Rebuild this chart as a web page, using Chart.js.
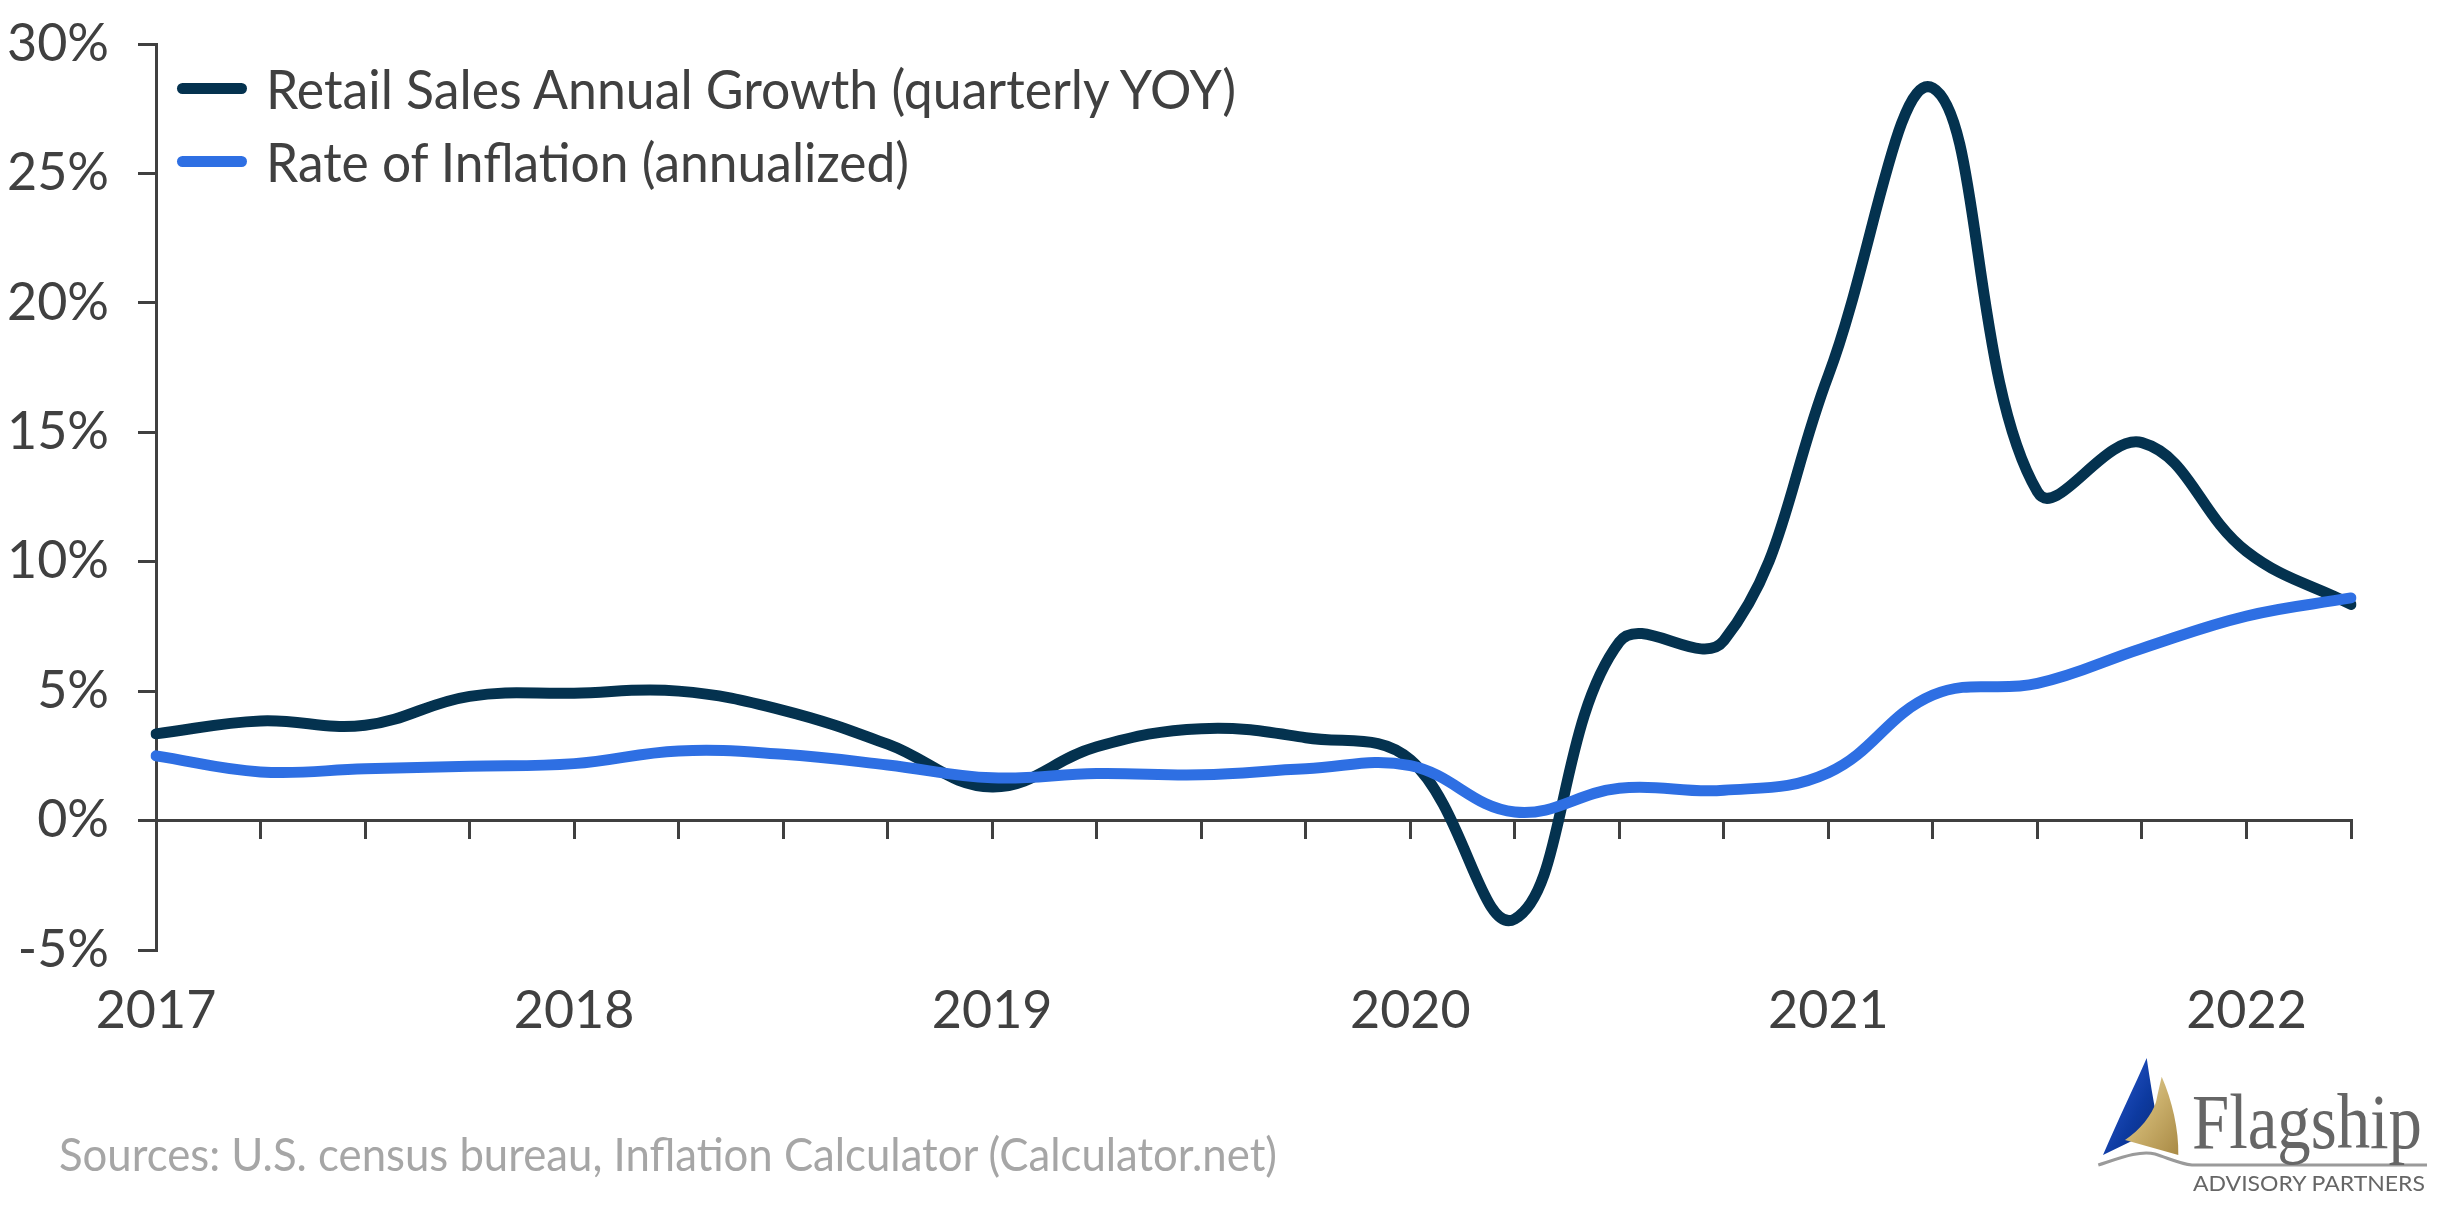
<!DOCTYPE html>
<html>
<head>
<meta charset="utf-8">
<script src="https://cdn.jsdelivr.net/npm/chart.js@4"></script>
<style>
  html, body { margin: 0; padding: 0; background: #ffffff; }
  #wrap { position: relative; width: 2442px; height: 1208px; overflow: hidden; }
  #chart { position: absolute; left: 0; top: 0; }
  #overlay { position: absolute; left: 0; top: 0; pointer-events: none; }
</style>
</head>
<body>
<div id="wrap">
  <canvas id="chart" width="2442" height="1208"></canvas>
  <svg id="overlay" width="2442" height="1208" viewBox="0 0 2442 1208" xmlns="http://www.w3.org/2000/svg">
    <defs>
      <linearGradient id="blueSail" x1="0" y1="0" x2="1" y2="1">
        <stop offset="0" stop-color="#2f5fd8"/>
        <stop offset="0.6" stop-color="#0d3aa0"/>
        <stop offset="1" stop-color="#0a2a78"/>
      </linearGradient>
      <linearGradient id="goldSail" x1="0" y1="0" x2="1" y2="1">
        <stop offset="0" stop-color="#e6d8a6"/>
        <stop offset="0.5" stop-color="#c9ae6a"/>
        <stop offset="1" stop-color="#a98a45"/>
      </linearGradient>
    </defs>
    <!-- legend -->
    <line x1="182.5" y1="88.5" x2="241.5" y2="88.5" stroke="#04324f" stroke-width="11" stroke-linecap="round"/>
    <line x1="182.5" y1="161.5" x2="241.5" y2="161.5" stroke="#2e6fe3" stroke-width="11" stroke-linecap="round"/>
    <text id="leg1" x="266" y="109" font-family="Lato" font-size="54" fill="#404040" textLength="970" lengthAdjust="spacingAndGlyphs">Retail Sales Annual Growth (quarterly YOY)</text>
    <text id="leg2" x="266" y="182" font-family="Lato" font-size="54" fill="#404040" textLength="643" lengthAdjust="spacingAndGlyphs">Rate of Inflation (annualized)</text>
    <!-- source -->
    <text x="59" y="1171" font-family="Lato" font-size="46" fill="#a6a6a6" textLength="1218" lengthAdjust="spacingAndGlyphs">Sources: U.S. census bureau, Inflation Calculator (Calculator.net)</text>
    <!-- logo -->
    <g transform="translate(2080,1040)">
      <path d="M66.7,18 C70,40 73,60 77,78 L58,98 L23,115 C38,80 55,45 66.7,18 Z" fill="url(#blueSail)"/>
      <path d="M81.7,36.7 C92,60 99,90 98.3,115 L45,100 C60,90 72,75 76,62 C78,52 80,44 81.7,36.7 Z" fill="url(#goldSail)"/>
      <path d="M18.3,125 C40,118 60,110 75,114 C88,118 100,124 112,125 L347,125" fill="none" stroke="#9a9a9a" stroke-width="3"/>
      <text x="112" y="108" font-family="Liberation Serif" font-size="78" fill="#666666" textLength="230" lengthAdjust="spacingAndGlyphs">Flagship</text>
      <text x="113" y="151" font-family="Lato" font-size="22" fill="#666666" textLength="232" lengthAdjust="spacingAndGlyphs">ADVISORY PARTNERS</text>
    </g>
  </svg>
</div>
<script>
// ---- data ----
const quarterLabels = [
  '2017 Q1','2017 Q2','2017 Q3','2017 Q4',
  '2018 Q1','2018 Q2','2018 Q3','2018 Q4',
  '2019 Q1','2019 Q2','2019 Q3','2019 Q4',
  '2020 Q1','2020 Q2','2020 Q3','2020 Q4',
  '2021 Q1','2021 Q2','2021 Q3','2021 Q4',
  '2022 Q1','2022 Q2'
];
const xTickLabels = [
  '2017','','','',
  '2018','','','',
  '2019','','','',
  '2020','','','',
  '2021','','','',
  '2022',''
];
const retailGrowth = [
  3.35, 3.85, 3.68, 4.8,
  4.92, 5.0, 4.26, 2.95,
  1.3, 2.85, 3.55, 3.2,
  2.35, -3.8, 6.9, 6.95,
  17.2, 28.3, 12.7, 14.6,
  10.4, 8.35
];
const inflationRate = [
  2.5, 1.88, 2.0, 2.1,
  2.2, 2.69, 2.56, 2.15,
  1.65, 1.82, 1.77, 2.0,
  2.12, 0.33, 1.25, 1.17,
  1.85, 4.85, 5.3, 6.65,
  7.9, 8.6
];
const yMin = -5, yMax = 30, yStep = 5;

const tickFont = { family: 'Lato', size: 52 };
const axisColor = '#404040';

new Chart(document.getElementById('chart').getContext('2d'), {
  type: 'line',
  data: {
    labels: quarterLabels,
    datasets: [
      {
        label: 'Retail Sales Annual Growth (quarterly YOY)',
        data: retailGrowth,
        borderColor: '#04324f',
        backgroundColor: '#04324f',
        borderWidth: 11,
        tension: 0.4,
        pointRadius: 0,
        fill: false,
        borderCapStyle: 'round',
        borderJoinStyle: 'round',
        order: 2
      },
      {
        label: 'Rate of Inflation (annualized)',
        data: inflationRate,
        borderColor: '#2e6fe3',
        backgroundColor: '#2e6fe3',
        borderWidth: 11,
        tension: 0.4,
        pointRadius: 0,
        fill: false,
        borderCapStyle: 'round',
        borderJoinStyle: 'round',
        order: 1
      }
    ]
  },
  options: {
    responsive: false,
    animation: false,
    devicePixelRatio: 1,
    layout: { padding: { top: 44, right: 91, left: 0, bottom: 0 } },
    plugins: { legend: { display: false }, tooltip: { enabled: false } },
    scales: {
      x: {
        type: 'category',
        position: { y: 0 },
        grid: { display: true, drawOnChartArea: false, drawTicks: true, tickLength: 17, color: axisColor, lineWidth: 3 },
        border: { display: true, color: axisColor, width: 3 },
        ticks: { display: false, autoSkip: false }
      },
      xLabels: {
        type: 'category',
        position: 'bottom',
        grid: { display: false, drawTicks: false },
        border: { display: false },
        ticks: {
          autoSkip: false, maxRotation: 0, minRotation: 0, padding: 30,
          color: axisColor, font: tickFont,
          callback: (v, i) => xTickLabels[i]
        },
        afterFit: s => { s.height = 258; }
      },
      y: {
        min: yMin, max: yMax,
        ticks: { stepSize: yStep, padding: 29, color: axisColor, font: tickFont, callback: v => v + '%' },
        grid: { drawOnChartArea: false, drawTicks: true, tickLength: 18, color: axisColor, lineWidth: 3 },
        border: { display: true, color: axisColor, width: 3 },
        afterFit: s => { s.width = 156; s.paddingTop = 0; s.paddingBottom = 0; }
      }
    }
  }
});
</script>
</body>
</html>
